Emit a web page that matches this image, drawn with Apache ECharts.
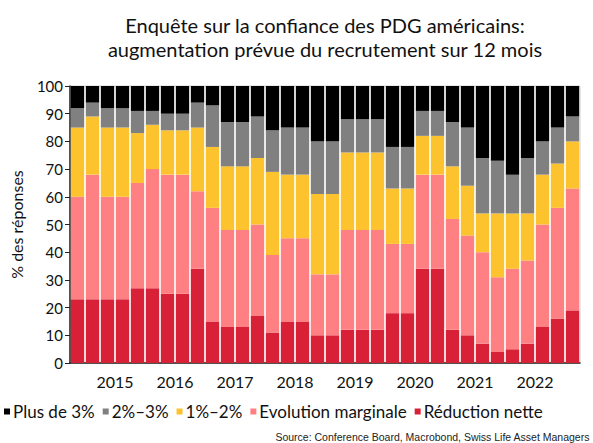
<!DOCTYPE html>
<html><head><meta charset="utf-8">
<script src="https://cdn.jsdelivr.net/npm/echarts@6/dist/echarts.min.js"></script>
<style>html,body{margin:0;padding:0;background:#fff}#c{width:593px;height:443px}</style>
</head><body><div id="c"></div>
<script>
const quarters = ["2014Q4"];
for (let y = 2015; y <= 2022; y++) for (let q = 1; q <= 4; q++) quarters.push(y + "Q" + q);
quarters.push("2023Q1");
const seriesNames = ["Réduction nette", "Evolution marginale", "1%–2%", "2%–3%", "Plus de 3%"];
const reduction = [23,23,23,23,27,27,25,25,34,15,13,13,17,11,15,15,10,10,12,12,12,18,18,34,34,12,10,7,4,5,7,13,16,19];
const marginale = [37,45,37,37,38,43,43,43,28,41,35,35,33,28,30,30,22,22,36,36,36,25,25,34,34,40,36,33,27,29,30,37,40,44];
const p1to2 = [25,21,25,25,18,16,16,16,23,22,23,23,24,30,23,23,29,29,28,28,28,20,20,14,14,19,18,14,23,20,17,18,16,17];
const p2to3 = [7,5,7,7,8,5,6,6,9,15,16,16,15,15,17,17,19,19,12,12,12,15,15,9,9,16,21,20,19,14,20,12,13,9];
const plus3 = [8,6,8,8,9,9,10,10,6,7,13,13,11,16,15,15,20,20,12,12,12,22,22,9,9,13,15,26,27,32,26,20,15,11];
const yTicks = [0,10,20,30,40,50,60,70,80,90,100];
const colors = ["#d82037", "#fe8083", "#fcc32e", "#808080", "#000000"];
const values = [reduction, marginale, p1to2, p2to3, plus3];
const FONT = "Lato";

const chart = echarts.init(document.getElementById('c'), null, {renderer: 'svg'});
chart.setOption({
  animation: false,
  textStyle: {fontFamily: FONT},
  title: {
    text: "Enquête sur la confiance des PDG américains:\naugmentation prévue du recrutement sur 12 mois",
    left: 320, top: 8, textAlign: 'center',
    textStyle: {fontFamily: FONT, fontSize: 20, fontWeight: 'normal', color: '#111', lineHeight: 24}
  },
  grid: {left: 66, right: 13, top: 86, bottom: 80, show: true, borderColor: '#d0d0d0', borderWidth: 1},
  legend: {
    data: ["Plus de 3%", "2%–3%", "1%–2%", "Evolution marginale", "Réduction nette"],
    left: 4, top: 403, icon: 'rect', itemWidth: 6, itemHeight: 6, itemGap: 8, padding: 0,
    textStyle: {fontFamily: FONT, fontSize: 17, color: '#111', padding: [0,0,0,-2]}
  },
  xAxis: {
    type: 'category', data: quarters,
    axisLine: {lineStyle: {color: '#222', width: 1.5}},
    axisTick: {interval: (i, v) => v.endsWith('Q1'), length: 6, lineStyle: {color: '#222'}},
    axisLabel: {interval: (i, v) => v.endsWith('Q2'), formatter: v => v.slice(0,4), padding: [0,0,0,15],
      fontFamily: FONT, fontSize: 16, color: '#111', margin: 10}
  },
  yAxis: {
    type: 'value', min: 0, max: 100, interval: 10,
    name: "% des réponses", nameLocation: 'middle', nameGap: 46, nameRotate: 90,
    nameTextStyle: {fontFamily: FONT, fontSize: 16, color: '#111'},
    axisLine: {show: true, lineStyle: {color: '#222', width: 1.5}},
    axisTick: {show: true, length: 5, lineStyle: {color: '#222'}},
    axisLabel: {fontFamily: FONT, fontSize: 15, color: '#111', margin: 7,
      formatter: v => yTicks.includes(v) ? String(v) : ''},
    splitLine: {show: false}
  },
  series: seriesNames.map((n, k) => ({
    name: n, type: 'bar', stack: 'all', data: values[k], barCategoryGap: '11%',
    itemStyle: {color: colors[k]}
  })),
  graphic: [{
    type: 'text', right: 3, top: 431,
    style: {text: "Source: Conference Board, Macrobond, Swiss Life Asset Managers", fontFamily: 'Liberation Sans', fontSize: 10.5, fill: '#222'}
  }]
});
</script></body></html>
